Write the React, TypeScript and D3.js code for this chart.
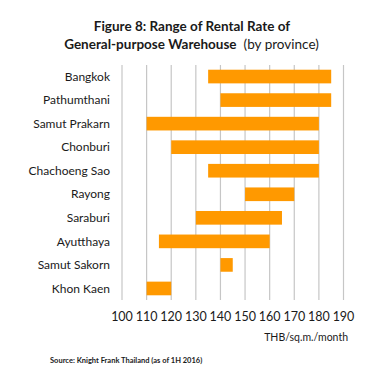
import React from "react";
import * as d3 from "d3";

const provinces = ["Bangkok","Pathumthani","Samut Prakarn","Chonburi","Chachoeng Sao","Rayong","Saraburi","Ayutthaya","Samut Sakorn","Khon Kaen"];
const minRent = [135,140,110,120,135,150,130,115,140,110];
const maxRent = [185,185,180,180,180,170,165,160,145,120];
const ticks = [100,110,120,130,140,150,160,170,180,190];

export default function App() {
  const W = 372, H = 372;
  const left = 122, right = 343.5, top = 65, bottom = 300;
  const x = d3.scaleLinear().domain([100,190]).range([left,right]);
  const y = d3.scaleBand<string>().domain(provinces).range([top,bottom]).paddingInner(0.42).paddingOuter(0.2);
  const font = "Lato, 'Open Sans', sans-serif";
  return (
    <svg width={W} height={H} style={{position:"absolute",left:0,top:0,background:"#fff"}} fontFamily={font}>
      <text x={192} y={31} textAnchor="middle" fontSize={13.5} fontWeight="bold" fill="#1a1a1a">Figure 8: Range of Rental Rate of</text>
      <text x={191.5} y={49} textAnchor="middle" fontSize={13.5} fill="#1a1a1a"><tspan fontWeight="bold">General-purpose Warehouse</tspan><tspan dx={7}>(by province)</tspan></text>
      {ticks.map(t => (
        <line key={t} x1={x(t)} x2={x(t)} y1={top} y2={bottom} stroke="#c6c6c6" strokeWidth={1.2} />
      ))}
      {provinces.map((p,i) => (
        <g key={p}>
          <rect x={x(minRent[i])} y={y(p)} width={x(maxRent[i])-x(minRent[i])} height={y.bandwidth()} fill="#FF9900" />
          <text x={110} y={(y(p) as number)+y.bandwidth()/2} dy="0.35em" textAnchor="end" fontSize={12} fill="#1a1a1a">{p}</text>
        </g>
      ))}
      {ticks.map(t => (
        <text key={t} x={x(t)} y={317} dy="0.35em" textAnchor="middle" fontSize={12.5} fill="#1a1a1a">{t}</text>
      ))}
      <text x={348} y={337} dy="0.35em" textAnchor="end" fontSize={10.5} fill="#1a1a1a">THB/sq.m./month</text>
      <text x={50} y={360} dy="0.35em" fontSize={7.5} fontWeight="bold" fill="#1a1a1a">Source: Knight Frank Thailand (as of 1H 2016)</text>
    </svg>
  );
}
